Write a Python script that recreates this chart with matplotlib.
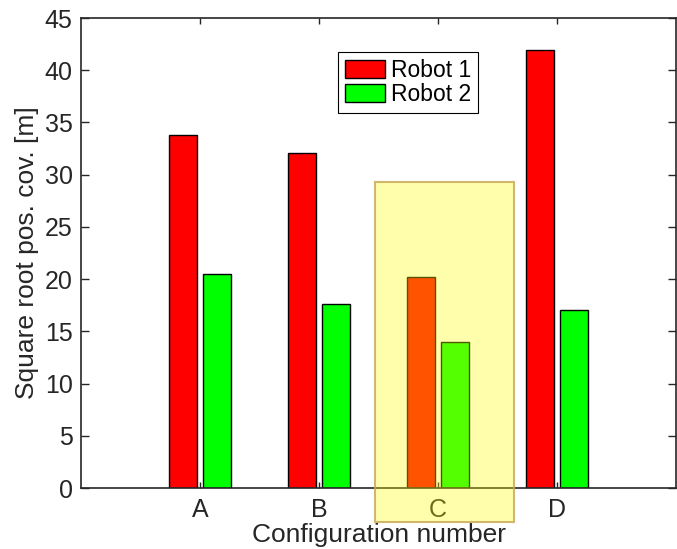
import numpy as np
import matplotlib.pyplot as plt
from matplotlib.patches import Rectangle

plt.rcParams['font.family'] = ['Liberation Sans', 'DejaVu Sans']

configs = ['A', 'B', 'C', 'D']
robot1 = [33.8, 32.1, 20.2, 41.9]
robot2 = [20.5, 17.6, 14.0, 17.0]

x = np.arange(1, len(configs) + 1)
w = 0.235
off = 0.145

fig = plt.figure(figsize=(6.77, 5.49), dpi=100)
ax = fig.add_axes([0.1196, 0.1111, 0.879, 0.856])

ax.bar(x - off, robot1, w, color='#ff0000', edgecolor='black', linewidth=1.0,
       label='Robot 1', zorder=2)
ax.bar(x + off, robot2, w, color='#00ff00', edgecolor='black', linewidth=1.0,
       label='Robot 2', zorder=2)

ax.set_xlim(0, 5)
ax.set_ylim(0, 45)
ax.set_xticks(x)
ax.set_xticklabels(configs)
ax.set_yticks(np.arange(0, 46, 5))
ax.tick_params(direction='in', length=6, width=1, labelsize=18, colors='#262626',
               top=True, right=True, pad=6)
ax.tick_params(axis='x', length=4, pad=7)
for s in ax.spines.values():
    s.set_color('#262626')
    s.set_linewidth(1.2)

ax.set_xlabel('Configuration number', fontsize=19, color='#262626', labelpad=1)
ax.set_ylabel('Square root pos. cov. [m]', fontsize=19, color='#262626', labelpad=4)

leg = ax.legend(loc='upper left', bbox_to_anchor=(0.432, 0.928), fontsize=16.5,
                frameon=True, fancybox=False, edgecolor='black', framealpha=1,
                handlelength=1.75, handleheight=0.85, handletextpad=0.25,
                labelspacing=0.05, borderpad=0.3, borderaxespad=0)
leg.get_frame().set_linewidth(0.8)

# highlight box around configuration C
hl = Rectangle((2.47, -3.3), 1.17, 29.3 + 3.3, facecolor='#ffff00', alpha=0.33,
               edgecolor='none', clip_on=False, zorder=5)
ax.add_patch(hl)
hl_edge = Rectangle((2.47, -3.3), 1.17, 29.3 + 3.3, facecolor='none',
                    edgecolor='#c8a450', alpha=0.8, linewidth=1.5, clip_on=False, zorder=6)
ax.add_patch(hl_edge)

fig.savefig('out.png', dpi=100)
